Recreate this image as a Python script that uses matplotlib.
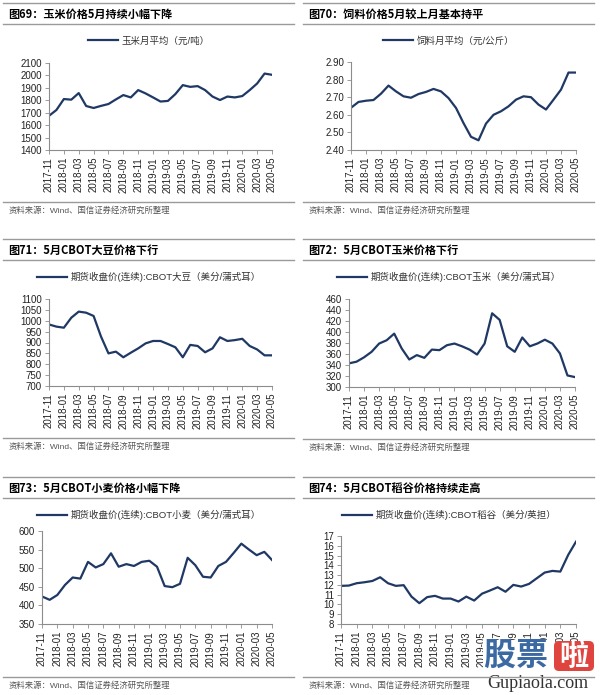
import matplotlib.pyplot as plt
from matplotlib.lines import Line2D
from matplotlib.patches import FancyBboxPatch

plt.rcParams['font.family'] = ['Liberation Sans', 'Noto Sans CJK SC', 'DejaVu Sans']

W, H = 600, 695

months = ["2017-11", "2017-12", "2018-01", "2018-02", "2018-03", "2018-04", "2018-05",
          "2018-06", "2018-07", "2018-08", "2018-09", "2018-10", "2018-11", "2018-12",
          "2019-01", "2019-02", "2019-03", "2019-04", "2019-05", "2019-06", "2019-07",
          "2019-08", "2019-09", "2019-10", "2019-11", "2019-12", "2020-01", "2020-02",
          "2020-03", "2020-04", "2020-05"]

corn_cn = [1675, 1722, 1810, 1805, 1858, 1754, 1738, 1755, 1770, 1807, 1842, 1823, 1882,
           1855, 1823, 1790, 1795, 1850, 1922, 1908, 1914, 1882, 1830, 1802, 1830, 1823,
           1834, 1882, 1935, 2015, 2005]
feed_cn = [2.64, 2.673, 2.68, 2.684, 2.72, 2.766, 2.733, 2.705, 2.697, 2.718, 2.73, 2.747,
           2.733, 2.695, 2.639, 2.553, 2.475, 2.455, 2.55, 2.60, 2.62, 2.648, 2.686, 2.705,
           2.70, 2.658, 2.63, 2.686, 2.743, 2.84, 2.84]
soy_cbot = [983, 973, 968, 1014, 1042, 1037, 1022, 927, 850, 858, 832, 853, 873, 896, 907,
            907, 893, 878, 832, 889, 884, 855, 873, 924, 907, 911, 917, 884, 868, 841, 841]
corn_cbot = [343, 346, 354, 364, 379, 385, 397, 370, 350, 358, 353, 368, 367, 376, 379,
             374, 368, 359, 379, 434, 422, 374, 364, 390, 374, 379, 386, 379, 361, 321, 318]
wheat_cbot = [424, 415, 428, 455, 475, 472, 517, 502, 511, 540, 504, 511, 506, 517, 520,
              504, 452, 449, 458, 528, 508, 477, 475, 506, 517, 541, 566, 550, 535, 544, 522]
rice_cbot = [11.9, 11.93, 12.17, 12.27, 12.4, 12.78, 12.17, 11.9, 11.97, 10.8, 10.13, 10.75,
             10.88, 10.6, 10.6, 10.3, 10.8, 10.4, 11.1, 11.42, 11.76, 11.3, 12.0, 11.83,
             12.1, 12.68, 13.26, 13.43, 13.36, 15.06, 16.42]

titles = ["图69：玉米价格5月持续小幅下降", "图70：饲料价格5月较上月基本持平",
          "图71：5月CBOT大豆价格下行", "图72：5月CBOT玉米价格下行",
          "图73：5月CBOT小麦价格小幅下降", "图74：5月CBOT稻谷价格持续走高"]
legends = ["玉米月平均（元/吨）", "饲料月平均（元/公斤）",
           "期货收盘价(连续):CBOT大豆（美分/蒲式耳）", "期货收盘价(连续):CBOT玉米（美分/蒲式耳）",
           "期货收盘价(连续):CBOT小麦（美分/蒲式耳）", "期货收盘价(连续):CBOT稻谷（美分/英担）"]
source = "资料来源：Wind、国信证券经济研究所整理"

series = [corn_cn, feed_cn, soy_cbot, corn_cbot, wheat_cbot, rice_cbot]
yticks = [list(range(1400, 2101, 100)),
          [2.40, 2.50, 2.60, 2.70, 2.80, 2.90],
          list(range(700, 1101, 50)),
          list(range(300, 461, 20)),
          list(range(350, 601, 50)),
          list(range(8, 18))]
yfmt = ["{:.0f}", "{:.2f}", "{:.0f}", "{:.0f}", "{:.0f}", "{:.0f}"]

# pixel layout: (panel_left, panel_top, axes box left, top, right, bottom)
panels = [
    (0, 0, 49, 63, 272, 150),
    (300, 0, 351, 62, 576, 150),
    (0, 236, 49, 299, 272, 386),
    (300, 236, 349, 299, 575, 387),
    (0, 474, 42, 531, 272, 624),
    (300, 474, 341, 536, 576, 624),
]
line_color = "#1f3864"
rule_color = "#9a9a9a"


def fx(x):
    return x / W


def fy(y):
    return 1 - y / H


def hline(fig, x0, x1, y, lw=1.0):
    fig.add_artist(Line2D([fx(x0), fx(x1)], [fy(y), fy(y)], color=rule_color, lw=lw,
                          transform=fig.transFigure))


fig = plt.figure(figsize=(W / 100, H / 100), dpi=100)

for i, (px, py, l, t, r, b) in enumerate(panels):
    # title block
    hline(fig, px + 3, px + 294, py + 3)
    fig.text(fx(px + 8), fy(py + 14), titles[i], fontsize=8, fontweight="bold",
             family=["Noto Sans CJK SC", "DejaVu Sans"], va="center", ha="left")
    hline(fig, px + 3, px + 294, py + 24)

    ax = fig.add_axes([fx(l), fy(b), fx(r - l), (b - t) / H])
    xs = list(range(len(months)))
    ax.plot(xs, series[i], color=line_color, lw=1.6, label=legends[i])
    ax.set_xlim(0, len(months) - 1)
    ax.set_ylim(yticks[i][0], yticks[i][-1])
    ax.set_yticks(yticks[i])
    ax.set_yticklabels([yfmt[i].format(v) for v in yticks[i]], fontsize=7)
    ax.set_xticks(xs[::2])
    ax.set_xticklabels(months[::2], rotation=90, fontsize=7)
    for s in ("top", "right"):
        ax.spines[s].set_visible(False)
    for s in ("left", "bottom"):
        ax.spines[s].set_color("#8c8c8c")
        ax.spines[s].set_linewidth(0.8)
    ax.tick_params(axis="both", colors="#8c8c8c", labelcolor="#222222", length=3,
                   width=0.6, pad=2)
    ax.set_facecolor("none")

    leg = ax.legend(loc="center", bbox_to_anchor=(fx(px + 149), fy(py + 41)),
                    bbox_transform=fig.transFigure, frameon=False,
                    handlelength=3.2, handletextpad=0.4, borderaxespad=0,
                    prop={"family": ["Liberation Sans", "Noto Sans CJK SC"], "size": 6.8})
    for txt in leg.get_texts():
        txt.set_color("#333333")

    # source block
    hline(fig, px + 3, px + 294, b + 52 if i < 4 else b + 53)
    fig.text(fx(px + 9), fy(b + 61 if i < 4 else b + 62), source, fontsize=6,
             color="#555555", family=["Liberation Sans", "Noto Sans CJK SC"],
             va="center", ha="left")

# watermark in the lower right corner
ax_w = fig.add_axes([0, 0, 1, 1])
ax_w.set_xlim(0, W)
ax_w.set_ylim(H, 0)
ax_w.axis("off")
ax_w.add_patch(FancyBboxPatch((483, 640), 67, 31, boxstyle="square,pad=0",
                              facecolor="white", edgecolor="none"))
for x0, ch in [(484, "股"), (517, "票")]:
    ax_w.text(x0 + 15, 656, ch, fontsize=23, fontweight="bold", color="#3b6aa3",
              family=["Noto Sans CJK SC"], ha="center", va="center")
ax_w.add_patch(FancyBboxPatch((554, 641), 40, 30, boxstyle="round,pad=0,rounding_size=5",
                              facecolor="#e0443e", edgecolor="none"))
ax_w.text(574, 656, "啦", fontsize=21, fontweight="bold", color="white",
          family=["Noto Sans CJK SC"], ha="center", va="center")
ax_w.text(538, 684, "Gupiaola.com", fontsize=13, color="#333333",
          family=["Liberation Serif"], ha="center", va="center")

fig.savefig("out.png", dpi=100, facecolor="white")
